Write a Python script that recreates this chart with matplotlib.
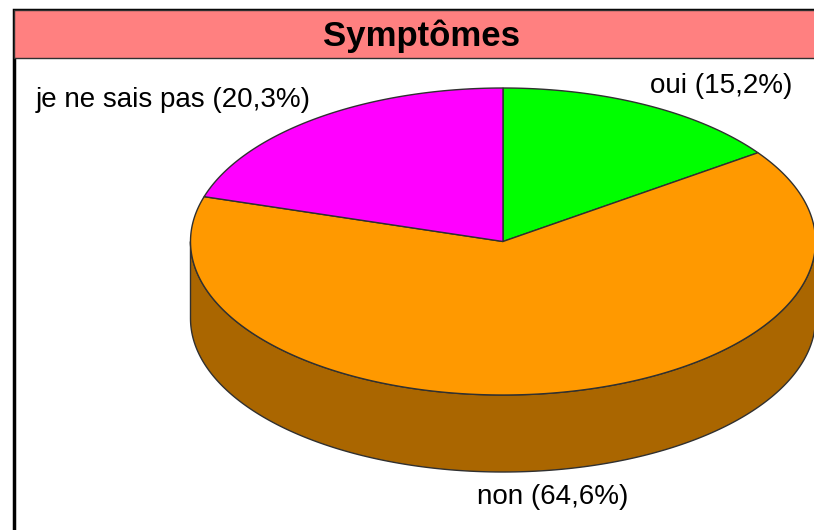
import numpy as np
import matplotlib.pyplot as plt
from matplotlib.patches import Polygon, Rectangle

# données
labels = ['oui', 'non', 'je ne sais pas']
values = [15.2, 64.6, 20.3]
colors = ['#00FF00', '#FF9900', '#FF00FF']
side_colors = ['#00AA00', '#AA6600', '#AA00AA']
title = 'Symptômes'

plt.rcParams['font.family'] = ['Liberation Sans', 'DejaVu Sans']

fig = plt.figure(figsize=(8.14, 5.30), dpi=100)
ax = fig.add_axes([0, 0, 1, 1])
ax.set_xlim(0, 814)
ax.set_ylim(530, 0)
ax.axis('off')

# cadre + bandeau du titre
ax.add_patch(Rectangle((14, 10), 820, 540, facecolor='white', edgecolor='black', lw=2.5, zorder=0))
ax.add_patch(Rectangle((14, 10), 820, 48, facecolor='#FF8080', edgecolor='#303030', lw=1.0, zorder=1))
ax.text(421, 36, title, ha='center', va='center', fontsize=25, fontweight='bold', zorder=2)

# géométrie du camembert 3D
cx, cy = 503, 241.5
a, b = 312.5, 153.5
depth = 77


def pt(t, dy=0):
    t = np.radians(t)
    return np.column_stack([cx + a * np.cos(t), cy - b * np.sin(t) + dy])


total = sum(values)
starts = []
ang = 90.0
for v in values:
    end = ang - v / total * 360
    starts.append((ang, end))
    ang = end

# faces latérales (moitié avant : 180° -> 360°)
for (t0, t1), sc in zip(starts, side_colors):
    lo, hi = min(t0, t1), max(t0, t1)
    for k in (-360, 0, 360):
        s0 = max(lo + k, 180)
        s1 = min(hi + k, 360)
        if s1 > s0:
            ts = np.linspace(s0, s1, 200)
            top = pt(ts)
            bot = pt(ts[::-1], depth)
            ax.add_patch(Polygon(np.vstack([top, bot]), closed=True, facecolor=sc,
                                 edgecolor='#303030', lw=1.0, zorder=3))

# faces supérieures
for (t0, t1), c in zip(starts, colors):
    ts = np.linspace(t0, t1, 300)
    poly = np.vstack([[cx, cy], pt(ts)])
    ax.add_patch(Polygon(poly, closed=True, facecolor=c, edgecolor='#303030', lw=1.0, zorder=4))

# étiquettes
fmt = lambda l, v: f"{l} ({v:.1f}%)".replace('.', ',')
ax.text(721, 86, fmt(labels[0], values[0]), ha='center', va='center', fontsize=20, zorder=5)
ax.text(553, 497, fmt(labels[1], values[1]), ha='center', va='center', fontsize=20, zorder=5)
ax.text(173, 100, fmt(labels[2], values[2]), ha='center', va='center', fontsize=20, zorder=5)

fig.savefig('out.png', dpi=100)
